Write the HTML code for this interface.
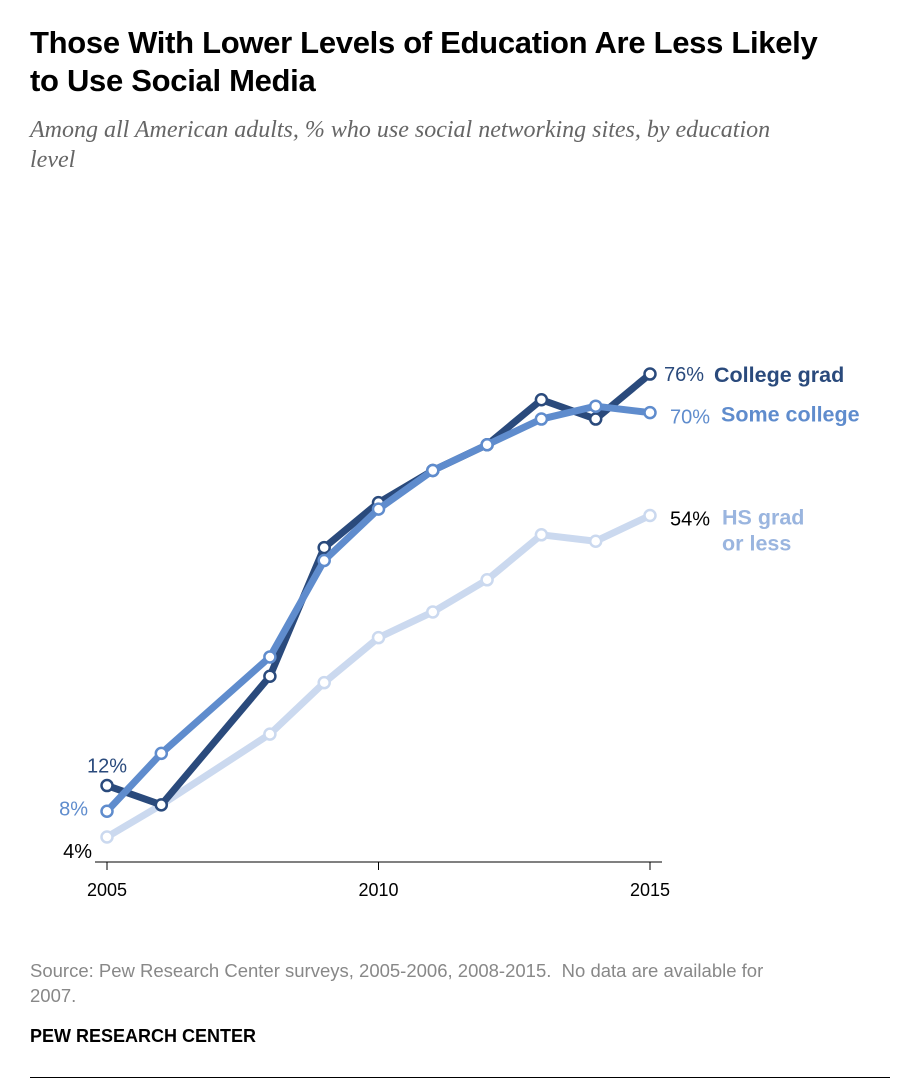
<!DOCTYPE html>
<html><head><meta charset="utf-8"><style>
body{margin:0;background:#fff;width:916px;height:1082px;overflow:hidden;font-family:"Liberation Sans",sans-serif;}
h1{position:absolute;left:30px;top:24px;margin:0;font-size:31px;line-height:38px;font-weight:bold;color:#000;letter-spacing:-0.3px;width:880px;white-space:nowrap}
.sub{position:absolute;left:30px;top:115px;font-family:"Liberation Serif",serif;font-style:italic;font-size:24px;line-height:30px;color:#666;width:880px;white-space:nowrap}
.src{position:absolute;left:30px;top:958px;font-size:18.5px;line-height:25px;color:#888;width:880px;white-space:nowrap}
.brand{position:absolute;left:30px;top:1026px;font-size:18px;font-weight:bold;color:#000}
.rule{position:absolute;left:30px;top:1077px;width:860px;height:1px;background:#000}
</style></head><body>
<h1>Those With Lower Levels of Education Are Less Likely<br>to Use Social Media</h1>
<div class="sub">Among all American adults, % who use social networking sites, by education<br>level</div>
<svg id="chart" width="916" height="1082" style="position:absolute;left:0;top:0"></svg>
<div class="src">Source: Pew Research Center surveys, 2005-2006, 2008-2015.&nbsp; No data are available for<br>2007.</div>
<div class="brand">PEW RESEARCH CENTER</div>
<div class="rule"></div>
<script>
const years=[2005,2006,2008,2009,2010,2011,2012,2013,2014,2015];
const collegeGrad=[12,9,29,49,56,61,65,72,69,76];
const someCollege=[8,17,32,47,55,61,65,69,71,70];
const hsGrad=[4,9,20,28,35,39,44,51,50,54];
const tickYears=[2005,2010,2015];
const NS="http://www.w3.org/2000/svg";
const svg=document.getElementById('chart');
const x=y=>107+(y-2005)*54.3;
const yv=v=>837-(v-4)*6.43;
function el(t,a){const e=document.createElementNS(NS,t);for(const k in a)e.setAttribute(k,a[k]);svg.appendChild(e);return e;}
const ax=el('line',{x1:95,x2:662,y1:862,y2:862,stroke:'#000','stroke-width':1});


tickYears.forEach(t=>{
 const l=el('line',{x1:x(t),x2:x(t),y1:862,y2:870,stroke:'#000'});
 
 
 const tx=el('text',{x:x(t),y:896,'text-anchor':'middle','font-size':18,fill:'#000','font-family':'Liberation Sans'});
 tx.textContent=t;
 
 
});
const series=[
 {d:hsGrad,c:'#cbd9ef',n:'hs-grad'},
 {d:collegeGrad,c:'#2a4a7c',n:'college-grad'},
 {d:someCollege,c:'#5f8ccd',n:'some-college'}];
series.forEach(s=>{
 const pts=s.d.map((v,i)=>x(years[i])+','+yv(v)).join(' ');
 const p=el('polyline',{points:pts,fill:'none',stroke:s.c,'stroke-width':7,'stroke-linejoin':'round'});
 
 
 s.d.forEach((v,i)=>{
  const c=el('circle',{cx:x(years[i]),cy:yv(v),r:5.5,fill:'#fff',stroke:s.c,'stroke-width':2.5});
  
  
 });
});
function lab(tx,xx,yy,col,bold,anchor,size){const t=el('text',{x:xx,y:yy,fill:col,'font-size':size||20,'font-weight':bold?'bold':'normal','text-anchor':anchor||'start','font-family':'Liberation Sans'});t.textContent=tx;return t;}
const L=[
 [lab(collegeGrad[9]+'%',664,yv(collegeGrad[9])+7,'#2a4a7c'),'college-grad-end-value'],
 [lab('College grad',714,yv(collegeGrad[9])+8,'#2a4a7c',true,'start',21.5),'college-grad-label'],
 [lab(someCollege[9]+'%',670,yv(someCollege[9])+11,'#5f8ccd'),'some-college-end-value'],
 [lab('Some college',721,yv(someCollege[9])+9,'#5f8ccd',true,'start',21.5),'some-college-label'],
 [lab(hsGrad[9]+'%',670,yv(hsGrad[9])+10,'#000'),'hs-grad-end-value'],
 [lab('HS grad',722,yv(hsGrad[9])+9,'#9ab5df',true,'start',21.5),'hs-grad-label'],
 [lab('or less',722,yv(hsGrad[9])+35,'#9ab5df',true,'start',21.5),'hs-grad-label-2'],
 [lab(collegeGrad[0]+'%',107,yv(collegeGrad[0])-13,'#2a4a7c','', 'middle'),'college-grad-start-value'],
 [lab(someCollege[0]+'%',88,yv(someCollege[0])+4,'#5f8ccd','','end'),'some-college-start-value'],
 [lab(hsGrad[0]+'%',92,yv(hsGrad[0])+21,'#000','','end'),'hs-grad-start-value']];
L.forEach(([t,n])=>{});
</script>
</body></html>
